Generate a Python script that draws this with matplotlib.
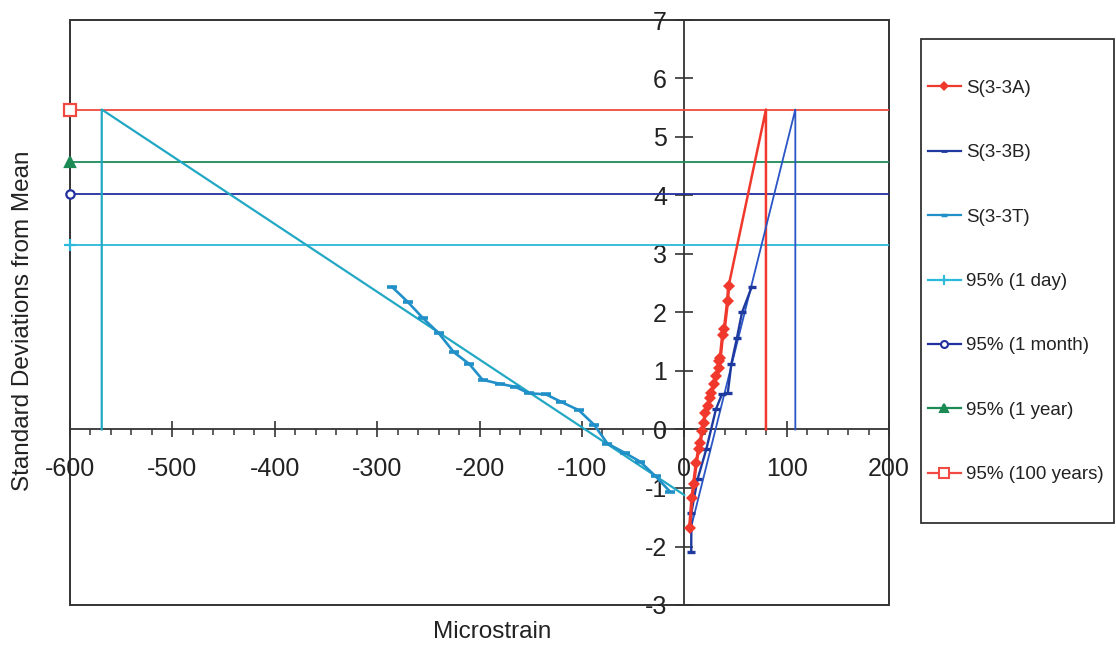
import matplotlib
matplotlib.use("Agg")
import matplotlib.pyplot as plt
from matplotlib.lines import Line2D
from matplotlib.patches import Rectangle
from matplotlib.ticker import MultipleLocator

plt.rcParams['font.family'] = ['Liberation Sans', 'DejaVu Sans']
plt.rcParams['axes.unicode_minus'] = False

# ---------------- data ----------------
a_x = [5.2, 7.5, 9.1, 11.7, 14.0, 15.6, 17.3, 18.9, 20.5, 22.8, 24.8, 26.1,
       29.3, 31.3, 33.5, 34.2, 35.2, 37.5, 39.1, 42.3, 43.3]
a_y = [-1.68, -1.17, -0.94, -0.57, -0.34, -0.23, -0.03, 0.11, 0.28, 0.40, 0.54,
       0.63, 0.77, 0.91, 1.05, 1.17, 1.23, 1.62, 1.71, 2.19, 2.45]

b_x = [6.8, 7.0, 13.0, 21.5, 31.0, 36.8, 42.5, 46.0, 51.5, 56.4, 66.0]
b_y = [-2.10, -1.42, -0.85, -0.34, 0.35, 0.60, 0.62, 1.12, 1.57, 2.00, 2.44]

t_x = [-285, -270, -255, -240, -225, -210, -197, -180, -165, -152, -135, -120,
       -103, -88, -75, -58, -43, -28, -14]
t_y = [2.43, 2.18, 1.90, 1.65, 1.32, 1.12, 0.85, 0.78, 0.73, 0.62, 0.60, 0.47,
       0.33, 0.08, -0.24, -0.40, -0.55, -0.80, -1.06]

# projection / fit lines
a_proj_x = [43.3, 79.8, 79.8]
a_proj_y = [2.45, 5.47, 0.0]
b_proj_x = [7.0, 108.5, 108.5]
b_proj_y = [-1.65, 5.47, 0.0]
t_proj_x = [-569, -569, 0]
t_proj_y = [0.0, 5.47, -1.12]

level_labels = ['95% (1 day)', '95% (1 month)', '95% (1 year)', '95% (100 years)']
level_values = [3.16, 4.03, 4.58, 5.47]

x_limits = [-600, 200]
y_limits = [-3, 7]

# ---------------- styles ----------------
c_a = '#F0382C'
c_b = '#1F3A9E'
c_t = '#2290C8'
c_bfit = '#2A55C4'
c_tfit = '#22A8C4'
level_colors = ['#2CB8DA', '#22309E', '#1C8A55', '#F04A42']
level_markers = ['+', 'o', '^', 's']
level_ms = [8, 6, 7, 8]
level_mfc = [None, 'white', None, 'white']
axis_col = '#333333'

fig = plt.figure(figsize=(11.16, 6.49), dpi=100)
ax = fig.add_axes([70 / 1116, 1 - 605 / 649, (889 - 70) / 1116, (605 - 20) / 649])
ax.set_xlim(*x_limits)
ax.set_ylim(*y_limits)

# spines through zero
ax.spines['left'].set_position(('data', 0))
ax.spines['bottom'].set_position(('data', 0))
ax.spines['top'].set_visible(False)
ax.spines['right'].set_visible(False)
for s in ('left', 'bottom'):
    ax.spines[s].set_color(axis_col)
    ax.spines[s].set_linewidth(1.3)
    ax.spines[s].set_zorder(1.5)
frame = Rectangle((0, 0), 1, 1, transform=ax.transAxes, fill=False,
                  lw=1.4, ec=axis_col, clip_on=False, zorder=1.5)
ax.add_patch(frame)

ax.xaxis.set_major_locator(MultipleLocator(100))
ax.xaxis.set_minor_locator(MultipleLocator(20))
ax.yaxis.set_major_locator(MultipleLocator(1))
ax.tick_params(axis='x', which='major', direction='inout', length=11.5, width=1.2,
               color=axis_col, labelsize=18, pad=14)
ax.tick_params(axis='x', which='minor', direction='out', length=4, width=1.1,
               color=axis_col)
ax.tick_params(axis='y', which='major', direction='inout', length=13, width=1.2,
               color=axis_col, labelsize=18, pad=6)
ax.set_xticklabels([str(int(v)) for v in ax.get_xticks()])
ax.set_yticklabels([str(int(v)) for v in ax.get_yticks()])
for lab in ax.get_xticklabels() + ax.get_yticklabels():
    lab.set_color('#222222')

ax.set_xlabel('Microstrain', fontsize=17.5, color='#222222')
ax.xaxis.set_label_coords((492 - 70) / 819, (605 - 621) / 585)
ax.set_ylabel('Standard Deviations from Mean', fontsize=17.5, color='#222222')
ax.yaxis.set_label_coords((34 - 70) / 819, (605 - 321) / 585)

# horizontal level lines
for val, col, mk, ms, mfc in zip(level_values, level_colors, level_markers,
                                 level_ms, level_mfc):
    ax.plot(x_limits, [val, val], color=col, lw=1.3, zorder=2)
    ax.plot([x_limits[0]], [val], marker=mk, ms=ms, color=col,
            mfc=mfc if mfc else col, mew=1.6, clip_on=False, zorder=4)

# projection lines
ax.plot(t_proj_x, t_proj_y, color=c_tfit, lw=1.6, zorder=2.5)
ax.plot(a_proj_x, a_proj_y, color=c_a, lw=1.8, zorder=2.5)
ax.plot(b_proj_x, b_proj_y, color=c_bfit, lw=1.3, zorder=2.5)

# data series
ax.plot(t_x, t_y, color=c_t, lw=1.9, marker='_', ms=7, mew=2.6, zorder=3)
ax.plot(b_x, b_y, color=c_b, lw=1.7, marker='_', ms=6, mew=2.4, zorder=3)
ax.plot(a_x, a_y, color=c_a, lw=2.4, marker='D', ms=6, mew=0, zorder=3.2)

# legend
handles = [
    Line2D([], [], color=c_a, lw=1.6, marker='D', ms=5, mew=0),
    Line2D([], [], color=c_b, lw=1.6, marker='_', ms=5, mew=2),
    Line2D([], [], color=c_t, lw=1.6, marker='_', ms=5, mew=2.5),
]
labels = ['S(3-3A)', 'S(3-3B)', 'S(3-3T)'] + level_labels
for col, mk, ms, mfc in zip(level_colors, level_markers, level_ms, level_mfc):
    handles.append(Line2D([], [], color=col, lw=1.6, marker=mk, ms=ms - 1,
                          mfc=mfc if mfc else col, mew=1.5))
fig.legend(handles, labels, loc='center left',
           bbox_to_anchor=(928 / 1116, 1 - 281.5 / 649),
           bbox_transform=fig.transFigure, frameon=False, fontsize=13.5,
           labelspacing=2.52, handlelength=1.75, handletextpad=0.3,
           borderpad=0, borderaxespad=0, numpoints=1, labelcolor='#222222')
fig.patches.append(Rectangle((921 / 1116, 1 - 523 / 649), (1114 - 921) / 1116,
                             (523 - 39) / 649, transform=fig.transFigure,
                             fill=False, lw=1.3, ec=axis_col))

fig.savefig('out.png', dpi=100)
